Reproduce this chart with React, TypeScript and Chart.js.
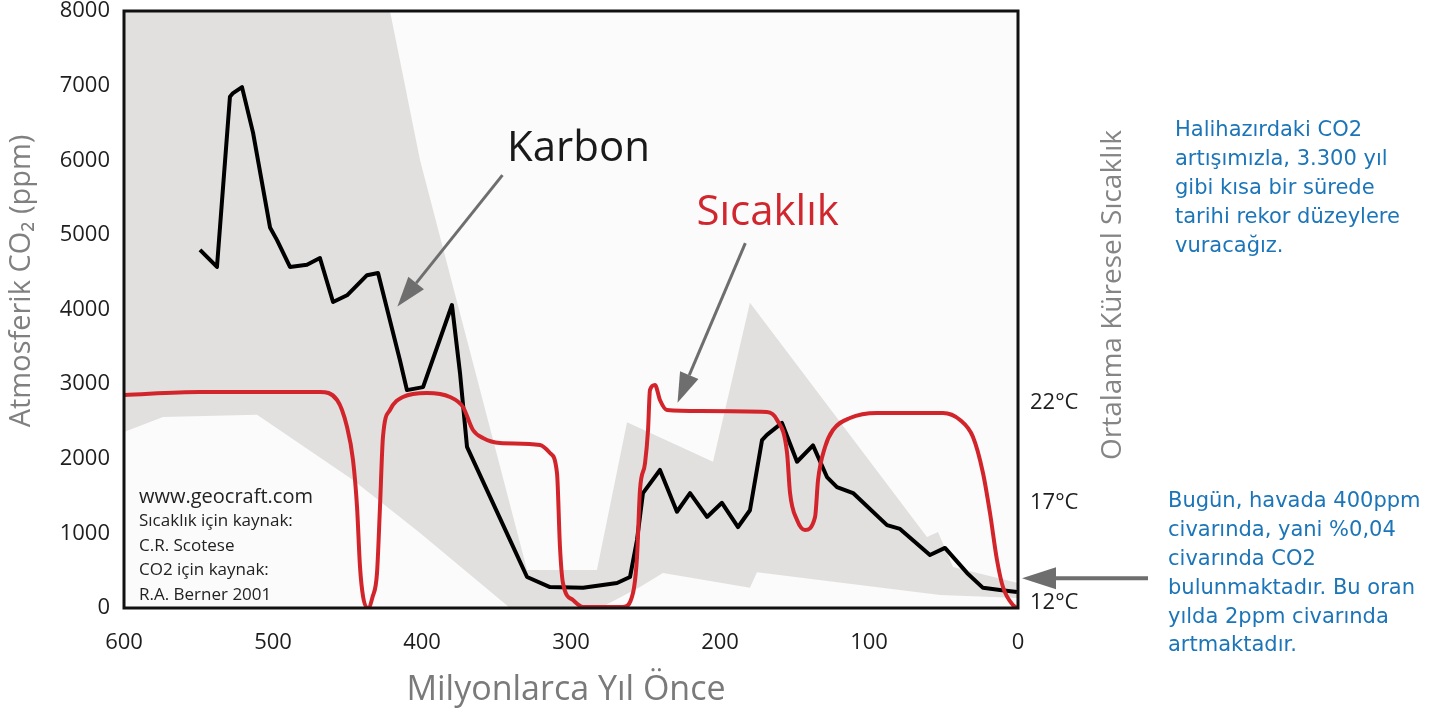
import React, { useEffect, useRef } from 'react';
import { Chart, registerables } from 'chart.js';

Chart.register(...registerables);

// ---- data (ages in million years ago) ----
const co2Age = [549, 537.6, 528.9, 526.8, 520.8, 513.4, 502, 497.3, 488.6, 477.2, 468.5, 459.7, 450.3, 436.9, 429.5, 414.8, 410.1, 399.3, 379.9, 374.5, 369.8, 356.4, 340.9, 329.5, 314.1, 291.9, 269.1, 260.4, 255.7, 251.7, 240.3, 228.9, 220.1, 208.7, 198.7, 187.9, 179.9, 171.8, 168.5, 158.4, 148.3, 137.6, 128.2, 121.5, 110.7, 87.9, 79.2, 59.1, 49.0, 34.2, 23.5, 12.1, 0.7];
const co2Ppm = [4800, 4570, 6850, 6900, 6980, 6370, 5100, 4930, 4570, 4600, 4690, 4100, 4190, 4460, 4490, 3320, 2920, 2960, 4060, 3150, 2160, 1580, 910, 415, 280, 270, 335, 415, 910, 1540, 1850, 1290, 1540, 1220, 1410, 1085, 1310, 2250, 2320, 2480, 1960, 2180, 1755, 1620, 1540, 1110, 1060, 710, 805, 470, 270, 240, 215];

const tempAge = [600, 549, 468.5, 457, 450.3, 446.3, 443.6, 441.6, 439.5, 436.2, 433.2, 430.2, 428.2, 426.2, 421.5, 412.8, 396.6, 381.2, 372.5, 365.8, 359.1, 347.7, 320.8, 314.1, 309.4, 307.4, 305.4, 298.7, 291.9, 265.1, 258.4, 255.7, 253.7, 250.3, 248.3, 247, 243.6, 240.3, 235.6, 213.4, 168.5, 161.7, 155, 153, 148.3, 143, 136.2, 134.2, 129.5, 124.2, 112.8, 94.6, 50.3, 38.9, 30.2, 23.5, 18.8, 14.1, 10.1, 3.4, 0.7];
const tempC = [22.4, 22.55, 22.55, 22.15, 20.8, 19.15, 16.8, 13.8, 12.3, 11.75, 12.3, 13.5, 16.8, 20.3, 21.65, 22.3, 22.5, 22.3, 21.8, 20.65, 20.25, 20.0, 19.9, 19.5, 18.5, 14.8, 13.0, 12.15, 11.8, 11.8, 12.5, 14.3, 17.65, 19.0, 20.65, 22.65, 22.9, 22.15, 21.65, 21.6, 21.55, 21.15, 19.5, 17.5, 16.15, 15.65, 16.3, 18.15, 19.8, 20.65, 21.25, 21.5, 21.5, 21.15, 20.3, 18.5, 16.5, 14.15, 12.8, 11.9, 11.75];

// uncertainty band of CO2 (upper edge old->young, lower edge young->old)
const bandUpperAge = [600, 421.5, 401.3, 369.8, 329.5, 282.6, 262.4, 204.7, 179.9, 61.1, 53.7, 43.6, 0];
const bandUpperPpm = [8000, 8000, 6000, 3590, 510, 510, 2490, 1960, 4090, 950, 1020, 550, 335];
const bandLowerAge = [0, 52.3, 175.2, 179.9, 238.3, 253.7, 280.5, 340.9, 401.3, 446.3, 510.7, 573.8, 600];
const bandLowerPpm = [135, 175, 480, 270, 470, 280, 0, 0, 1005, 1715, 2590, 2560, 2360];

const xTicks = [600, 500, 400, 300, 200, 100, 0];
const yTicks = [0, 1000, 2000, 3000, 4000, 5000, 6000, 7000, 8000];
const tempTicks = [12, 17, 22];

const sourceLines = ['www.geocraft.com', 'Sıcaklık için kaynak:', 'C.R. Scotese', 'CO2 için kaynak:', 'R.A. Berner 2001'];
const infoTop = ['Halihazırdaki CO2', 'artışımızla, 3.300 yıl', 'gibi kısa bir sürede', 'tarihi rekor düzeylere', 'vuracağız.'];
const infoBottom = ['Bugün, havada 400ppm', 'civarında, yani %0,04', 'civarında CO2', 'bulunmaktadır. Bu oran', 'yılda 2ppm civarında', 'artmaktadır.'];

const FONT = '"Open Sans", "Noto Sans", sans-serif';
const BLUE_FONT = '"DejaVu Sans", sans-serif';

function drawArrow(ctx: CanvasRenderingContext2D, x1: number, y1: number, x2: number, y2: number, headLen: number, headHalf: number, color: string, lw: number) {
  const ang = Math.atan2(y2 - y1, x2 - x1);
  const bx = x2 - headLen * Math.cos(ang);
  const by = y2 - headLen * Math.sin(ang);
  ctx.save();
  ctx.strokeStyle = color;
  ctx.fillStyle = color;
  ctx.lineWidth = lw;
  ctx.beginPath();
  ctx.moveTo(x1, y1);
  ctx.lineTo(bx, by);
  ctx.stroke();
  ctx.beginPath();
  ctx.moveTo(x2, y2);
  ctx.lineTo(bx + headHalf * Math.sin(ang), by - headHalf * Math.cos(ang));
  ctx.lineTo(bx - headHalf * Math.sin(ang), by + headHalf * Math.cos(ang));
  ctx.closePath();
  ctx.fill();
  ctx.restore();
}

const decoPlugin = {
  id: 'deco',
  beforeDatasetsDraw(chart: any) {
    const { ctx, chartArea: a } = chart;
    ctx.save();
    ctx.fillStyle = '#fbfbfb';
    ctx.fillRect(a.left, a.top, a.right - a.left, a.bottom - a.top);
    ctx.restore();
  },
  afterDatasetsDraw(chart: any) {
    const { ctx, chartArea: a } = chart;
    const xs = chart.scales.x;
    const ys = chart.scales.y;
    const px = (v: number) => xs.getPixelForValue(v);
    const py = (v: number) => ys.getPixelForValue(v);

    // frame
    ctx.save();
    ctx.strokeStyle = '#111';
    ctx.lineWidth = 3;
    ctx.strokeRect(a.left, a.top, a.right - a.left, a.bottom - a.top);
    ctx.restore();

    // source text
    ctx.save();
    ctx.fillStyle = '#222';
    ctx.textBaseline = 'middle';
    ctx.textAlign = 'left';
    sourceLines.forEach((t, i) => {
      ctx.font = (i === 0 ? '20px ' : '17px ') + FONT;
      ctx.fillText(t, a.left + 15, 497 + i * 24.5);
    });
    ctx.restore();

    // labels
    ctx.save();
    ctx.textAlign = 'center';
    ctx.textBaseline = 'middle';
    ctx.font = '42px ' + FONT;
    ctx.fillStyle = '#1a1a1a';
    ctx.fillText('Karbon', px(295), py(6150));
    ctx.fillStyle = '#d0262d';
    ctx.fillText('Sıcaklık', px(168), py(5290));
    ctx.restore();

    drawArrow(ctx, px(346), py(5800), px(416.5), py(4040), 30, 10, '#6e6e6e', 3);
    drawArrow(ctx, px(183), py(4890), px(228.5), py(2750), 30, 10, '#6e6e6e', 3);
  },
  afterDraw(chart: any) {
    const { ctx, chartArea: a } = chart;
    const ys = chart.scales.y;
    const yArrow = ys.getPixelForValue(400);
    drawArrow(ctx, a.right + 130, yArrow, a.right + 4, yArrow, 34, 11, '#6e6e6e', 4);

    // axis titles
    ctx.save();
    ctx.textAlign = 'center';
    ctx.textBaseline = 'middle';
    ctx.font = '34px ' + FONT;
    ctx.fillStyle = '#7a7a7a';
    ctx.fillText('Milyonlarca Yıl Önce', 566, 690);
    ctx.restore();

    ctx.save();
    ctx.translate(22, 281);
    ctx.rotate(-Math.PI / 2);
    ctx.textAlign = 'center';
    ctx.textBaseline = 'middle';
    ctx.font = '29px ' + FONT;
    ctx.fillStyle = '#808080';
    ctx.fillText('Atmosferik CO₂ (ppm)', 0, 0);
    ctx.restore();

    ctx.save();
    ctx.translate(1113, 295);
    ctx.rotate(-Math.PI / 2);
    ctx.textAlign = 'center';
    ctx.textBaseline = 'middle';
    ctx.font = '28px ' + FONT;
    ctx.fillStyle = '#858585';
    ctx.fillText('Ortalama Küresel Sıcaklık', 0, 0);
    ctx.restore();

    // blue notes
    ctx.save();
    ctx.fillStyle = '#1b75b8';
    ctx.textAlign = 'left';
    ctx.textBaseline = 'middle';
    ctx.font = '21px ' + BLUE_FONT;
    infoTop.forEach((t, i) => ctx.fillText(t, 1175, 131 + i * 29));
    infoBottom.forEach((t, i) => ctx.fillText(t, 1168, 502 + i * 28.8));
    ctx.restore();
  },
};

export default function App() {
  const ref = useRef<HTMLCanvasElement | null>(null);

  useEffect(() => {
    if (!ref.current) return;
    const co2Data = co2Age.map((x, i) => ({ x, y: co2Ppm[i] }));
    const tempData = tempAge.map((x, i) => ({ x, y: tempC[i] }));
    const bandData = [
      ...bandUpperAge.map((x, i) => ({ x, y: bandUpperPpm[i] })),
      ...bandLowerAge.map((x, i) => ({ x, y: bandLowerPpm[i] })),
    ];
    const tickFont = { family: FONT, size: 22 };

    const chart = new Chart(ref.current, {
      type: 'line',
      data: {
        datasets: [
          {
            data: tempData,
            yAxisID: 'y2',
            borderColor: '#d2252b',
            borderWidth: 4,
            pointRadius: 0,
            cubicInterpolationMode: 'monotone',
            fill: false,
          },
          {
            data: co2Data,
            yAxisID: 'y',
            borderColor: '#000',
            borderWidth: 4,
            pointRadius: 0,
            tension: 0,
            borderJoinStyle: 'round',
            fill: false,
          },
          {
            data: bandData,
            yAxisID: 'y',
            borderWidth: 0,
            borderColor: 'rgba(0,0,0,0)',
            backgroundColor: '#e2e0df',
            pointRadius: 0,
            tension: 0,
            fill: 'shape',
          },
        ],
      } as any,
      options: {
        responsive: false,
        animation: false,
        layout: { padding: { left: 0, right: 0, top: 11, bottom: 0 } },
        plugins: { legend: { display: false }, tooltip: { enabled: false } },
        scales: {
          x: {
            type: 'linear',
            reverse: true,
            min: 0,
            max: 600,
            afterBuildTicks: (s: any) => { s.ticks = xTicks.map((v) => ({ value: v })); },
            afterFit: (s: any) => { s.height = 106; s.paddingLeft = 0; s.paddingRight = 0; },
            grid: { display: false, drawTicks: false },
            border: { display: false },
            ticks: { font: tickFont, color: '#1e1e1e', padding: 22, maxRotation: 0, autoSkip: false, callback: (v: any) => String(v) },
          },
          y: {
            position: 'left',
            min: 0,
            max: 8000,
            afterBuildTicks: (s: any) => { s.ticks = yTicks.map((v) => ({ value: v })); },
            afterFit: (s: any) => { s.width = 124; s.paddingTop = 0; s.paddingBottom = 0; },
            grid: { display: false, drawTicks: false },
            border: { display: false },
            ticks: { font: tickFont, color: '#1e1e1e', padding: 14, autoSkip: false, callback: (v: any) => String(v) },
          },
          y2: {
            position: 'right',
            min: 11.75,
            max: 41.6,
            afterBuildTicks: (s: any) => { s.ticks = tempTicks.map((v) => ({ value: v })); },
            afterFit: (s: any) => { s.width = 426; s.paddingTop = 0; s.paddingBottom = 0; },
            grid: { display: false, drawTicks: false },
            border: { display: false },
            ticks: { font: tickFont, color: '#1e1e1e', padding: 12, autoSkip: false, callback: (v: any) => v + '°C' },
          },
        },
      } as any,
      plugins: [decoPlugin],
    });
    return () => chart.destroy();
  }, []);

  return (
    <div style={{ position: 'absolute', left: 0, top: 0, width: 1444, height: 714, background: '#fff' }}>
      <canvas ref={ref} width={1444} height={714} style={{ display: 'block', width: 1444, height: 714 }} />
    </div>
  );
}
